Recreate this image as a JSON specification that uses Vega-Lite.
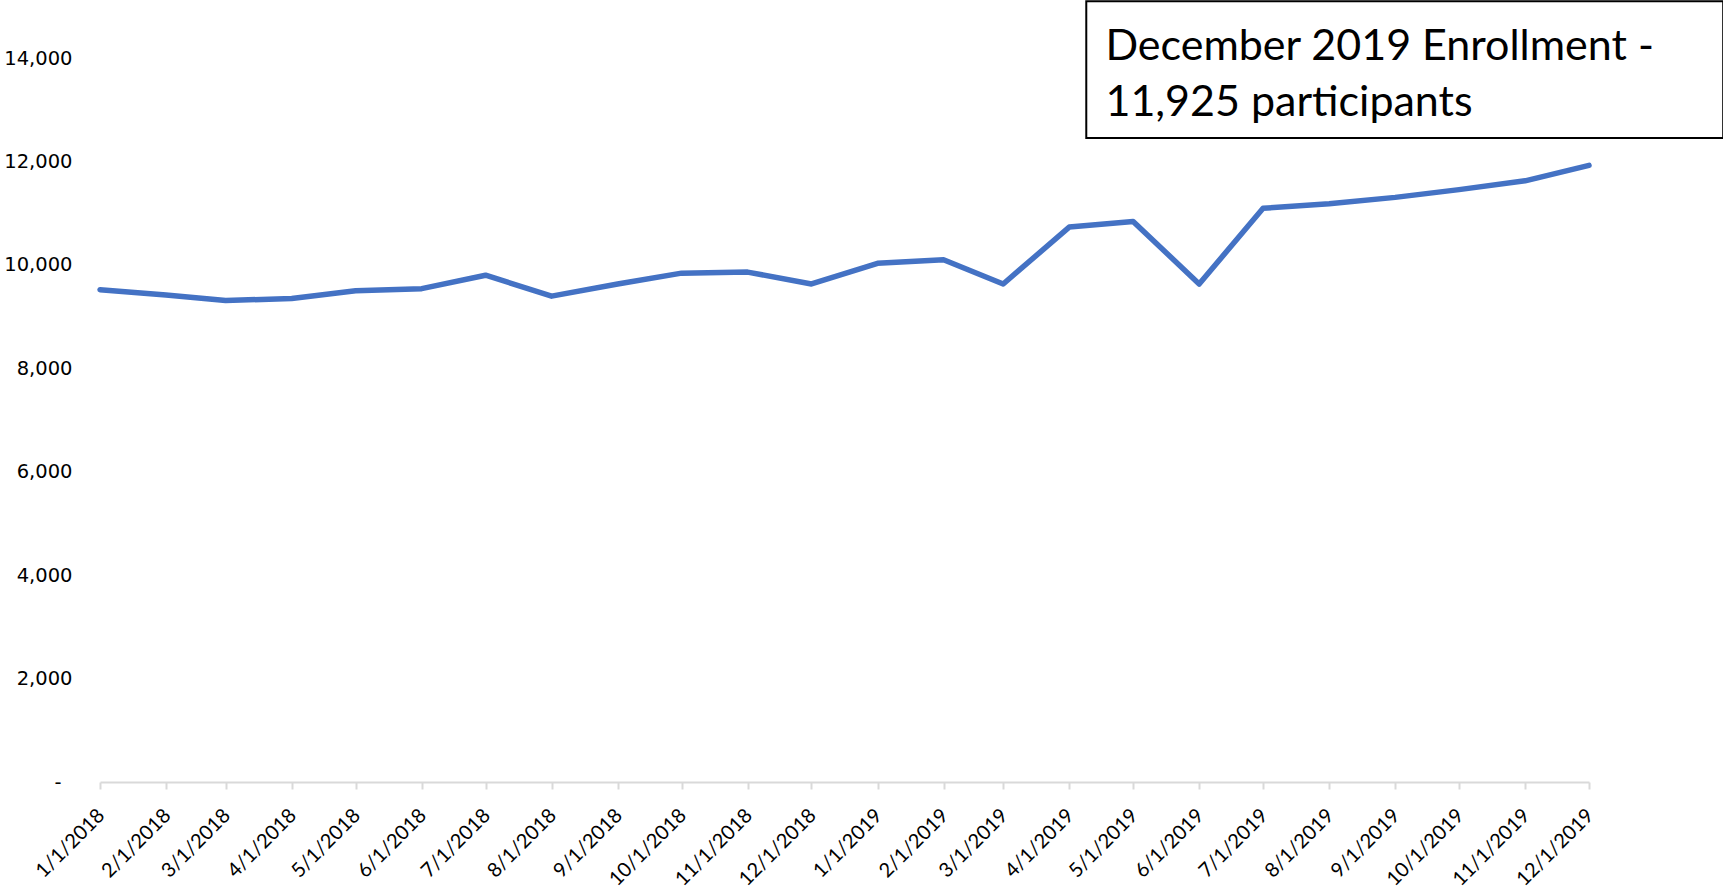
{
  "$schema": "https://vega.github.io/schema/vega-lite/v6.json",
  "width": 1489,
  "height": 724,
  "autosize": {"type": "none"},
  "padding": {"left": 100, "top": 58, "right": 134, "bottom": 112},
  "background": "white",
  "config": {"view": {"stroke": null}},
  "datasets": {
    "enroll": [
      {"month": "2018-01-01", "participants": 9520},
      {"month": "2018-02-01", "participants": 9415},
      {"month": "2018-03-01", "participants": 9310},
      {"month": "2018-04-01", "participants": 9350},
      {"month": "2018-05-01", "participants": 9500},
      {"month": "2018-06-01", "participants": 9540},
      {"month": "2018-07-01", "participants": 9800},
      {"month": "2018-08-01", "participants": 9395},
      {"month": "2018-09-01", "participants": 9630},
      {"month": "2018-10-01", "participants": 9840},
      {"month": "2018-11-01", "participants": 9860},
      {"month": "2018-12-01", "participants": 9630},
      {"month": "2019-01-01", "participants": 10030},
      {"month": "2019-02-01", "participants": 10100},
      {"month": "2019-03-01", "participants": 9630},
      {"month": "2019-04-01", "participants": 10730},
      {"month": "2019-05-01", "participants": 10840},
      {"month": "2019-06-01", "participants": 9630},
      {"month": "2019-07-01", "participants": 11095},
      {"month": "2019-08-01", "participants": 11180},
      {"month": "2019-09-01", "participants": 11305},
      {"month": "2019-10-01", "participants": 11455},
      {"month": "2019-11-01", "participants": 11625},
      {"month": "2019-12-01", "participants": 11925}
    ],
    "note": [
      {"x1": "2019-04-09", "x2": "2020-02-02", "y1": 12455, "y2": 15095, "tx": "2019-04-18", "ty": 13965, "label": ["December 2019 Enrollment -", "11,925 participants"]}
    ]
  },
  "layer": [
    {
      "data": {"name": "enroll"},
      "mark": {"type": "line", "color": "#4472C4", "strokeWidth": 5.5, "strokeCap": "round", "strokeJoin": "round"},
      "encoding": {
        "x": {
          "field": "month",
          "type": "temporal",
          "scale": {"type": "utc", "domain": ["2018-01-01", "2019-12-01"]},
          "axis": {
            "title": null,
            "grid": false,
            "tickCount": {"interval": "month", "step": 1},
            "format": "%-m/%-d/%Y",
            "labelAngle": -45,
            "labelFont": "Lato",
            "labelFontSize": 20,
            "labelColor": "black",
            "labelPadding": 16,
            "labelOffset": -6,
            "domainColor": "#d9d9d9",
            "domainWidth": 2,
            "tickColor": "#d9d9d9",
            "tickWidth": 2,
            "tickSize": 7,
            "labelOverlap": false
          }
        },
        "y": {
          "field": "participants",
          "type": "quantitative",
          "scale": {"domain": [0, 14000], "nice": false},
          "axis": {
            "title": null,
            "grid": false,
            "domain": false,
            "ticks": false,
            "values": [0, 2000, 4000, 6000, 8000, 10000, 12000, 14000],
            "labelExpr": "datum.value == 0 ? '-' : format(datum.value, ',')",
            "labelFont": "DejaVu Sans",
            "labelFontSize": 19.5,
            "labelColor": "black",
            "labelPadding": {"condition": {"test": "datum.value == 0", "value": 39}, "value": 28}
          }
        }
      }
    },
    {
      "data": {"name": "note"},
      "mark": {"type": "rect", "fill": "white", "stroke": "black", "strokeWidth": 2},
      "encoding": {
        "x": {"field": "x1", "type": "temporal"},
        "x2": {"field": "x2"},
        "y": {"field": "y1", "type": "quantitative"},
        "y2": {"field": "y2"}
      }
    },
    {
      "data": {"name": "note"},
      "mark": {"type": "text", "align": "left", "baseline": "alphabetic", "font": "Lato", "fontSize": 43, "lineHeight": 56, "color": "black"},
      "encoding": {
        "x": {"field": "tx", "type": "temporal"},
        "y": {"field": "ty", "type": "quantitative"},
        "text": {"field": "label"}
      }
    }
  ]
}
